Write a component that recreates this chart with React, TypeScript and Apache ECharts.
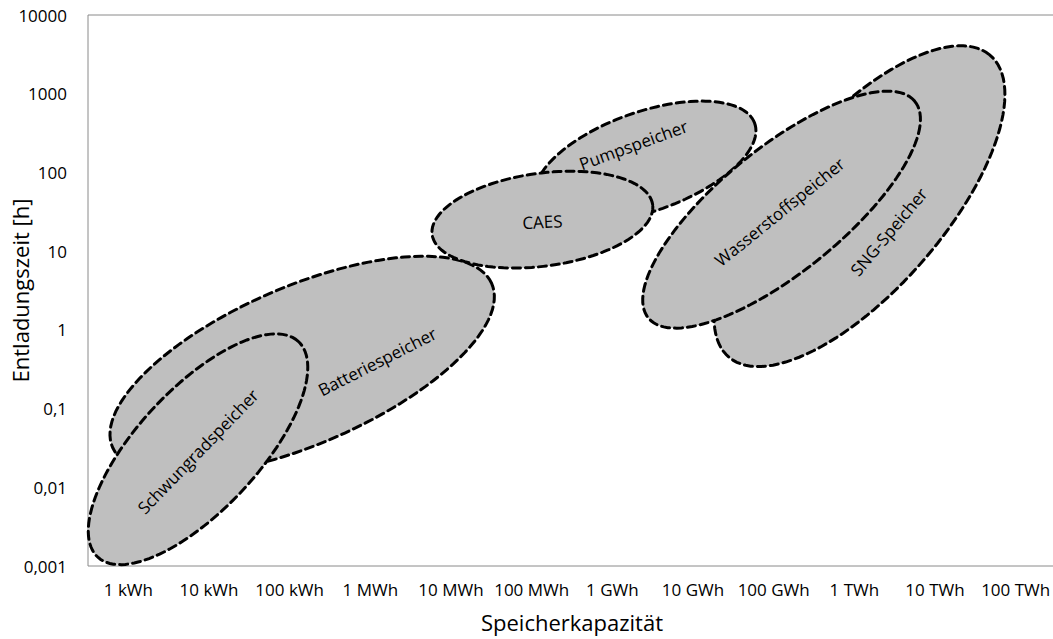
import React, { useEffect, useRef } from "react";
import * as echarts from "echarts";

// X axis categories (storage capacity, one per decade starting at 1 kWh)
const xCategories = [
  "1 kWh", "10 kWh", "100 kWh", "1 MWh", "10 MWh", "100 MWh",
  "1 GWh", "10 GWh", "100 GWh", "1 TWh", "10 TWh", "100 TWh",
];
// Y tick labels (discharge time in hours, log scale)
const yTickLabels = ["0,001", "0,01", "0,1", "1", "10", "100", "1000", "10000"];

// Storage technologies (drawn in this order, later ones on top)
const techNames = [
  "Batteriespeicher", "Schwungradspeicher", "Pumpspeicher",
  "CAES", "SNG-Speicher", "Wasserstoffspeicher",
];
// Ellipse centre: capacity in decades above 1 kWh, discharge time as log10(h)
const centerCapDecade = [2.155, 0.864, 6.41, 5.133, 9.064, 8.098];
const centerTimeLog = [-0.453, -1.517, 2.136, 1.40, 1.571, 1.527];
// Semi axes in decades, tilt in degrees
const semiMajor = [2.57, 1.85, 1.44, 1.38, 2.51, 2.15];
const semiMinor = [1.0, 0.76, 0.63, 0.59, 1.05, 0.78];
const tiltDeg = [24, 48, 20, 8, 50, 40];
// Label anchor (same units) and rotation
const labelCapDecade = [3.085, 0.862, 6.262, 5.133, 9.426, 8.073];
const labelTimeLog = [-0.402, -1.544, 2.351, 1.374, 1.246, 1.5];
const labelRotDeg = [27, 46, 20, 3, 50, 39];

const FONT = "'Open Sans', 'Noto Sans', sans-serif";

export default function App() {
  const ref = useRef<HTMLDivElement>(null);

  useEffect(() => {
    if (!ref.current) return;
    const chart = echarts.init(ref.current, undefined, { renderer: "svg" });

    const renderItem = (params: any, api: any) => {
      const i = params.dataIndex;
      const cx = centerCapDecade[i];
      const cy = centerTimeLog[i];
      const a = semiMajor[i];
      const b = semiMinor[i];
      const th = (tiltDeg[i] * Math.PI) / 180;
      const pts: number[][] = [];
      const N = 120;
      for (let k = 0; k < N; k++) {
        const t = (2 * Math.PI * k) / N;
        const x = cx + a * Math.cos(th) * Math.cos(t) - b * Math.sin(th) * Math.sin(t);
        const y = cy + a * Math.sin(th) * Math.cos(t) + b * Math.cos(th) * Math.sin(t);
        pts.push(api.coord([x, Math.pow(10, y)]));
      }
      const lp = api.coord([labelCapDecade[i], Math.pow(10, labelTimeLog[i])]);
      return {
        type: "group",
        children: [
          {
            type: "polygon",
            shape: { points: pts },
            style: {
              fill: "#bfbfbf",
              stroke: "#000000",
              lineWidth: 3,
              lineDash: [8, 5],
              lineCap: "round",
            },
          },
          {
            type: "text",
            x: lp[0],
            y: lp[1],
            rotation: (labelRotDeg[i] * Math.PI) / 180,
            style: {
              text: techNames[i],
              fill: "#000000",
              fontSize: 17,
              fontFamily: FONT,
              align: "center",
              verticalAlign: "middle",
            },
          },
        ],
      };
    };

    const option: any = {
      animation: false,
      backgroundColor: "#ffffff",
      grid: {
        left: 88,
        top: 15,
        right: 0,
        bottom: 73,
        containLabel: false,
        outerBoundsMode: "none",
        show: true,
        borderColor: "#8a8a8a",
        borderWidth: 1,
        backgroundColor: "transparent",
      },
      xAxis: [
        {
          type: "category",
          data: xCategories,
          boundaryGap: true,
          axisLine: { show: false },
          axisTick: { show: false },
          splitLine: { show: false },
          axisLabel: {
            interval: 0,
            margin: 15,
            color: "#000000",
            fontSize: 17,
            fontFamily: FONT,
          },
          name: "Speicherkapazität",
          nameLocation: "middle",
          nameGap: 45,
          nameMoveOverlap: false,
          nameTextStyle: { color: "#000000", fontSize: 22, fontFamily: FONT },
        },
        {
          type: "value",
          min: -0.5,
          max: 11.5,
          show: false,
        },
      ],
      yAxis: {
        type: "log",
        logBase: 10,
        min: 0.001,
        max: 10000,
        axisLine: { show: false },
        axisTick: { show: false },
        splitLine: { show: false },
        axisLabel: {
          margin: 21,
          color: "#000000",
          fontSize: 17,
          fontFamily: FONT,
          formatter: (v: number) => {
            const e = Math.round(Math.log10(v));
            return yTickLabels[e + 3] ?? "";
          },
        },
        name: "Entladungszeit [h]",
        nameLocation: "middle",
        nameGap: 57,
        nameMoveOverlap: false,
        nameTextStyle: { color: "#000000", fontSize: 22, fontFamily: FONT },
      },
      series: [
        {
          type: "custom",
          coordinateSystem: "cartesian2d",
          xAxisIndex: 1,
          yAxisIndex: 0,
          renderItem,
          clip: false,
          silent: true,
          data: techNames.map((_, i) => [centerCapDecade[i], Math.pow(10, centerTimeLog[i])]),
        },
      ],
    };

    chart.setOption(option);
    return () => chart.dispose();
  }, []);

  return (
    <div style={{ position: "fixed", left: 0, top: 0, width: 1053, height: 639, overflow: "hidden", background: "#fff" }}>
      <div ref={ref} style={{ position: "absolute", left: 0, top: 0, width: 1056, height: 639 }} />
    </div>
  );
}
